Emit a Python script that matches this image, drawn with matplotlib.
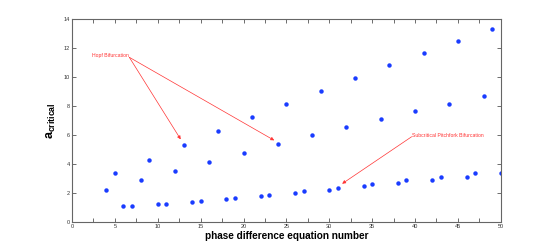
import matplotlib
matplotlib.use("Agg")
import matplotlib.pyplot as plt
from matplotlib.ticker import MultipleLocator

plt.rcParams['font.family'] = ['Liberation Sans', 'DejaVu Sans']
plt.rcParams['mathtext.fontset'] = 'custom'
plt.rcParams['mathtext.rm'] = 'Liberation Sans'
plt.rcParams['mathtext.bf'] = 'Liberation Sans:bold'

eq_number = list(range(4, 51))
a_critical = [2.23, 3.36, 1.13, 1.13, 2.87, 4.28, 1.22, 1.24, 3.54, 5.31,
              1.38, 1.43, 4.16, 6.28, 1.59, 1.63, 4.78, 7.24, 1.79, 1.86,
              5.38, 8.16, 2.02, 2.11, 5.98, 9.06, 2.23, 2.37, 6.55, 9.93,
              2.46, 2.62, 7.10, 10.80, 2.69, 2.87, 7.63, 11.66, 2.92, 3.13,
              8.16, 12.48, 3.13, 3.38, 8.69, 13.31, 3.38]

hopf_label = "Hopf Bifurcation"
hopf_text_xy = (6.68, 11.36)
hopf_targets = [(12.67, 5.70), (23.58, 5.63)]
pitch_label = "Subcritical Pitchfork Bifurcation"
pitch_text_xy = (39.6, 5.88)
pitch_target = (31.5, 2.64)

fig = plt.figure(figsize=(5.54, 2.5), dpi=100)
ax = fig.add_axes([0.130, 0.112, 0.774, 0.812])

ax.plot(eq_number, a_critical, linestyle='none', marker='o', markersize=3.2,
        color='#1a3cff', markeredgewidth=0)

ax.set_xlim(0, 50)
ax.set_ylim(0, 14)
ax.xaxis.set_major_locator(MultipleLocator(5))
ax.xaxis.set_minor_locator(MultipleLocator(2.5))
ax.yaxis.set_major_locator(MultipleLocator(2))
ax.tick_params(which='both', direction='in', top=True, right=True,
               labelsize=4, length=3, width=0.6, color='#555555',
               labelcolor='#333333', pad=1.5)
ax.tick_params(which='minor', length=3)
for s in ax.spines.values():
    s.set_color('#666666')
    s.set_linewidth(0.8)

ax.set_xlabel("phase difference equation number", fontsize=7.2,
              fontweight='bold', labelpad=1.5)
ax.set_ylabel(r"$\mathbf{a}_{\mathbf{critical}}$", fontsize=9, labelpad=4)

arrowprops = dict(arrowstyle='-|>', color='#ff3333', lw=0.5,
                  mutation_scale=5, shrinkA=0, shrinkB=0)
for tgt in hopf_targets:
    ax.annotate("", xy=tgt, xytext=hopf_text_xy, arrowprops=arrowprops)
ax.text(hopf_text_xy[0], hopf_text_xy[1] + 0.1, hopf_label, fontsize=3.7,
        color='#ff3333', ha='right', va='center')
ax.annotate("", xy=pitch_target, xytext=pitch_text_xy, arrowprops=arrowprops)
ax.text(pitch_text_xy[0], pitch_text_xy[1] + 0.1, pitch_label, fontsize=3.7,
        color='#ff3333', ha='left', va='center')

fig.savefig("out.png", dpi=100)
